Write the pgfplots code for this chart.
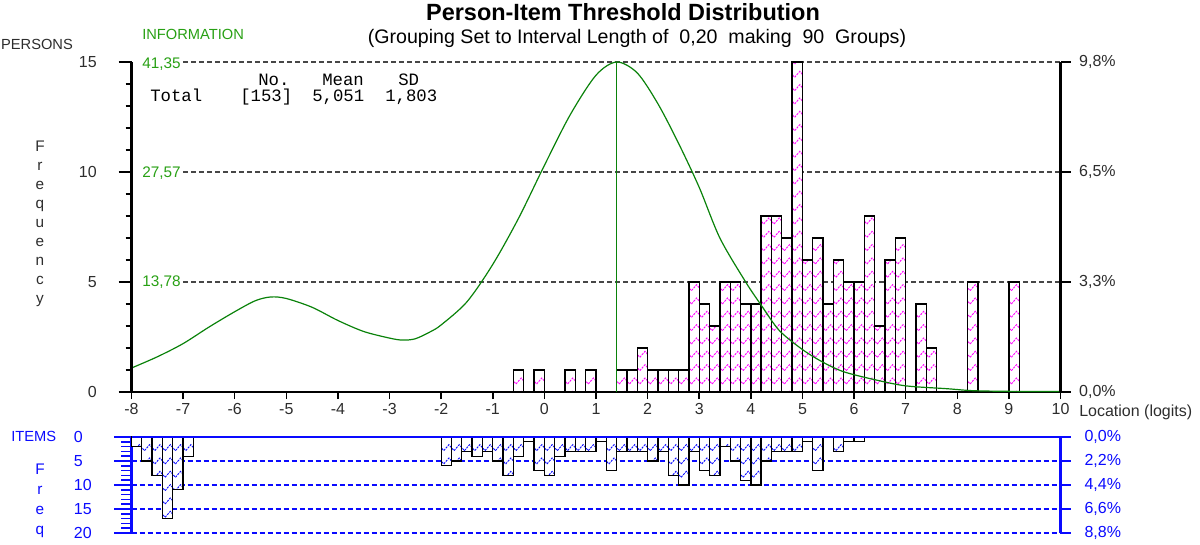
\documentclass[border=0pt]{standalone}
\usepackage{fontspec}
\setmainfont{Liberation Sans}
\newfontfamily\monofont{Liberation Mono}
\usepackage{pgfplots}
\pgfplotsset{compat=1.18}
\usetikzlibrary{patterns.meta}
\definecolor{infogreen}{RGB}{10,130,10}
\definecolor{labgreen}{RGB}{40,160,20}
\definecolor{itemblue}{RGB}{10,10,255}
\definecolor{txtgray}{RGB}{45,45,45}
\definecolor{gridgray}{RGB}{70,70,70}
\pgfdeclarepattern{
  name=chev, type=uncolored,
  bottom left={\pgfpoint{-1pt}{-1pt}},
  top right={\pgfpoint{8.74pt}{11pt}},
  tile size={\pgfpoint{7.74pt}{10pt}},
  code={
    \pgfsetlinewidth{0.7pt}
    \pgfsetdash{{1.6pt}{0.8pt}}{0pt}
    \pgfpathmoveto{\pgfpoint{0pt}{0pt}}
    \pgfpathlineto{\pgfpoint{3.87pt}{4.5pt}}
    \pgfpathlineto{\pgfpoint{7.74pt}{0pt}}
    \pgfusepath{stroke}
  }
}
\pgfplotstableread{
x y
-0.5 1
-0.1 1
0.5 1
0.9 1
1.5 1
1.7 1
1.9 2
2.1 1
2.3 1
2.5 1
2.7 1
2.9 5
3.1 4
3.3 3
3.5 5
3.7 5
3.9 4
4.1 4
4.3 8
4.5 8
4.7 7
4.9 15
5.1 6
5.3 7
5.5 4
5.7 6
5.9 5
6.1 5
6.3 8
6.5 3
6.7 6
6.9 7
7.3 4
7.5 2
8.3 5
9.1 5
}\persons
\pgfplotstableread{
x y
-7.9 2
-7.7 5
-7.5 8
-7.3 17
-7.1 11
-6.9 4
-1.9 6
-1.7 5
-1.5 3
-1.3 4
-1.1 3
-0.9 5
-0.7 8
-0.5 4
-0.3 1
-0.1 7
0.1 8
0.3 4
0.5 3
0.7 3
0.9 3
1.1 1
1.3 7
1.5 3
1.7 3
1.9 3
2.1 5
2.3 3
2.5 8
2.7 10
2.9 3
3.1 7
3.3 8
3.5 2
3.7 5
3.9 9
4.1 10
4.3 5
4.5 3
4.7 3
4.9 3
5.1 1
5.3 7
5.7 3
5.9 1
6.1 1
}\items
\begin{document}
\begin{tikzpicture}
\useasboundingbox (0,0) rectangle (900pt,408pt);
% ---------- top axis (persons) ----------
\begin{axis}[
  at={(98.625pt,114pt)}, anchor=south west,
  width=696.75pt, height=247.5pt, scale only axis,
  xmin=-8, xmax=10, ymin=0, ymax=15,
  axis x line*=bottom, axis y line*=left,
  axis line style={-, line width=1.6pt, black},
  xtick={-8,-7,...,10},
  xticklabels={-8,-7,-6,-5,-4,-3,-2,-1,0,1,2,3,4,5,6,7,8,9,10},
  ytick=\empty,
  tick align=outside,
  major tick length=5.25pt,
  every tick/.style={black, line width=1.1pt},
  tick label style={font=\fontsize{12}{14}\selectfont, text=txtgray},
  clip=false, axis on top=false,
]
\addplot[gridgray, line width=1.1pt, dash pattern=on 3.75pt off 2.25pt] coordinates {(-7.0,5) (10,5)};
\addplot[gridgray, line width=1.1pt, dash pattern=on 3.75pt off 2.25pt] coordinates {(-7.0,10) (10,10)};
\addplot[gridgray, line width=1.1pt, dash pattern=on 3.75pt off 2.25pt] coordinates {(-7.0,15) (10,15)};
\addplot[ybar, bar width=0.2, bar shift=0pt, draw=black, line width=1pt, fill=white,
  postaction={pattern=chev, pattern color=magenta}] table[x=x,y=y] {\persons};
\addplot[infogreen, line width=0.8pt] coordinates {(1.4,0) (1.4,15)};
\addplot[infogreen, line width=0.9pt, smooth, tension=0.5] coordinates {
(-8,1.09) (-7.5,1.6) (-7,2.2) (-6.5,2.95) (-6,3.65) (-5.6,4.15) (-5.3,4.32) (-5,4.25)
(-4.5,3.85) (-4,3.25) (-3.5,2.75) (-3,2.45) (-2.75,2.36) (-2.5,2.42) (-2.2,2.75)
(-2,3.05) (-1.5,4.1) (-1,5.8) (-0.5,7.9) (0,10.3) (0.5,12.6) (1,14.4) (1.4,15)
(1.8,14.5) (2.2,13.1) (2.6,11.3) (3,9.3) (3.4,7.0) (3.9,5.0) (4.2,3.95) (4.55,2.8)
(5,1.93) (5.4,1.35) (5.8,0.92) (6.4,0.56) (7,0.28) (7.8,0.15) (8.3,0.06) (9,0.03) (10,0.02)};
\end{axis}
% left ticks for top
\begin{axis}[
  at={(98.625pt,114pt)}, anchor=south west,
  width=696.75pt, height=247.5pt, scale only axis,
  xmin=-8, xmax=10, ymin=0, ymax=15,
  hide x axis, axis y line*=left,
  axis line style={-, line width=1.6pt, black},
  ytick={0,5,10,15},
  yticklabels={0,5,10,15},
  minor y tick num=4,
  tick align=outside,
  major tick length=9.75pt, minor tick length=4.5pt,
  every tick/.style={black, line width=1.1pt},
  tick label style={font=\fontsize{12}{14}\selectfont, text=txtgray},
  yticklabel style={xshift=-12.75pt},
]
\end{axis}
% right axis for top
\begin{axis}[
  at={(98.625pt,114pt)}, anchor=south west,
  width=696.75pt, height=247.5pt, scale only axis,
  xmin=-8, xmax=10, ymin=0, ymax=15,
  hide x axis, axis y line*=right,
  axis line style={-, line width=1.6pt, black},
  ytick={0,5,10,15},
  yticklabels={{0,0\%},{3,3\%},{6,5\%},{9,8\%}},
  tick align=outside, major tick length=7.5pt,
  every tick/.style={black, line width=1.1pt},
  tick label style={font=\fontsize{12}{14}\selectfont, text=txtgray},
  yticklabel style={xshift=3pt},
]
\end{axis}
% ---------- bottom axis (items) ----------
\begin{axis}[
  at={(98.625pt,8.25pt)}, anchor=south west,
  width=696.75pt, height=72pt, scale only axis,
  xmin=-8, xmax=10, ymin=0, ymax=20, y dir=reverse,
  hide x axis, axis y line*=left,
  axis line style={-, line width=1.8pt, itemblue},
  ytick={0,5,10,15,20},
  yticklabels={0,5,10,15,20},
  minor y tick num=4,
  tick align=outside, major tick length=12.75pt, minor tick length=7.5pt,
  every tick/.style={itemblue, line width=1.1pt},
  tick label style={font=\fontsize{12}{14}\selectfont, text=itemblue},
  yticklabel style={anchor=west, xshift=-34pt},
  ymajorgrids=true,
  major grid style={itemblue, line width=1.1pt, dash pattern=on 3.75pt off 2.25pt},
  clip=false,
]
\addplot[ybar, bar width=0.2, bar shift=0pt, draw=black, line width=1pt, fill=white,
  postaction={pattern=chev, pattern color=itemblue}] table[x=x,y=y] {\items};
\addplot[itemblue, line width=1.8pt] coordinates {(-8,0) (10,0)};
\end{axis}
\begin{axis}[
  at={(98.625pt,8.25pt)}, anchor=south west,
  width=696.75pt, height=72pt, scale only axis,
  xmin=-8, xmax=10, ymin=0, ymax=20, y dir=reverse,
  hide x axis, axis y line*=right,
  axis line style={-, line width=1.8pt, itemblue},
  ytick={0,5,10,15,20},
  yticklabels={{0,0\%},{2,2\%},{4,4\%},{6,6\%},{8,8\%}},
  tick align=outside, major tick length=7.5pt,
  every tick/.style={itemblue, line width=1.1pt},
  tick label style={font=\fontsize{12}{14}\selectfont, text=itemblue},
  yticklabel style={xshift=7pt},
]
\end{axis}
% ---------- texts ----------
\begin{scope}[x=0.75pt, y=0.75pt]
\node[font=\bfseries\fontsize{17.6}{20}\selectfont] at (623,532) {Person-Item Threshold Distribution};
\node[font=\fontsize{14.7}{17}\selectfont] at (637,506) {(Grouping Set to Interval Length of\ \ 0,20\ \ making\ \ 90\ \ Groups)};
\node[font=\fontsize{11}{13}\selectfont, text=txtgray] at (37,500) {PERSONS};
\node[font=\fontsize{11}{13}\selectfont, text=labgreen, anchor=west, inner sep=0pt] at (142,510) {INFORMATION};
\node[font=\fontsize{11.5}{13}\selectfont, text=labgreen, anchor=west, inner sep=0pt] at (142,480) {41,35};
\node[font=\fontsize{11.5}{13}\selectfont, text=labgreen, anchor=west, inner sep=0pt] at (142,371) {27,57};
\node[font=\fontsize{11.5}{13}\selectfont, text=labgreen, anchor=west, inner sep=0pt] at (142,262) {13,78};
\node[font=\fontsize{11.5}{14.25}\selectfont, text=txtgray, align=center] at (40,320) {F\\r\\e\\q\\u\\e\\n\\c\\y};
\node[font=\monofont\fontsize{13}{15}\selectfont, anchor=base west, inner sep=0pt] at (258,459) {No.};
\node[font=\monofont\fontsize{13}{15}\selectfont, anchor=base west, inner sep=0pt] at (322,459) {Mean};
\node[font=\monofont\fontsize{13}{15}\selectfont, anchor=base west, inner sep=0pt] at (398,459) {SD};
\node[font=\monofont\fontsize{13}{15}\selectfont, anchor=base west, inner sep=0pt] at (150,442) {Total};
\node[font=\monofont\fontsize{13}{15}\selectfont, anchor=base west, inner sep=0pt] at (240,442) {[153]};
\node[font=\monofont\fontsize{13}{15}\selectfont, anchor=base west, inner sep=0pt] at (312,442) {5,051};
\node[font=\monofont\fontsize{13}{15}\selectfont, anchor=base west, inner sep=0pt] at (385,442) {1,803};
\node[font=\fontsize{12}{14}\selectfont, text=txtgray, anchor=west, inner sep=0pt] at (1079,132) {Location (logits)};
\node[font=\fontsize{11}{13}\selectfont, text=itemblue, anchor=west, inner sep=0pt] at (11,108) {ITEMS};
\node[font=\fontsize{11.5}{15}\selectfont, text=itemblue, align=center] at (40,43) {F\\r\\e\\q};
\end{scope}
\end{tikzpicture}
\end{document}
